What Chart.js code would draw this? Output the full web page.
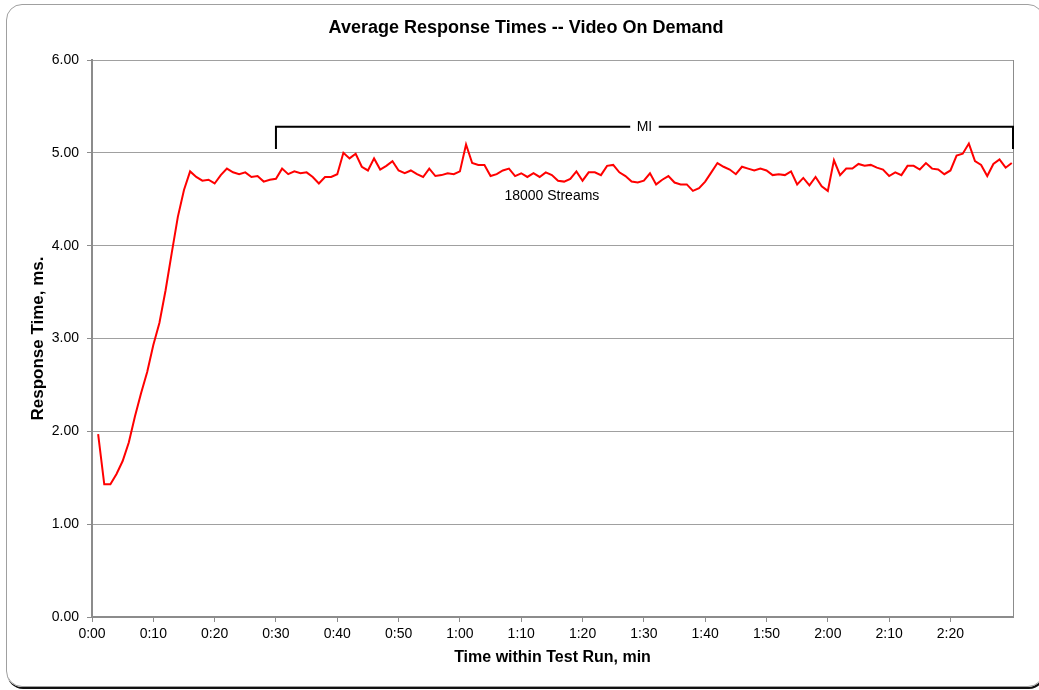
<!DOCTYPE html>
<html>
<head>
<meta charset="utf-8">
<title>Average Response Times -- Video On Demand</title>
<script src="https://cdn.jsdelivr.net/npm/chart.js@4/dist/chart.umd.min.js"></script>
<style>
  html, body { margin: 0; padding: 0; background: #fff; overflow: hidden; }
  .frame {
    position: absolute; left: 6px; top: 4px; width: 1036px; height: 681px;
    border: 1px solid #a0a0a0; border-radius: 16px; box-shadow: 1px 2px 0 #111;
  }
  .wrap { position: absolute; left: 0; top: 0; width: 1039px; height: 690px; }
</style>
</head>
<body>
<div class="frame"></div>
<div class="wrap"><canvas class="js-chart" width="1039" height="690"></canvas></div>
<script>
const ctx = document.querySelector(".js-chart").getContext("2d");

const CHART_TITLE = "Average Response Times -- Video On Demand";
const X_TITLE = "Time within Test Run, min";
const Y_TITLE = "Response Time, ms.";
const SERIES_LABEL = "18000 Streams";
const MI_LABEL = "MI";

// x axis runs in minutes, labelled every 10 min
const X_MAX = 150.2;
const tickMinutes = [0, 10, 20, 30, 40, 50, 60, 70, 80, 90, 100, 110, 120, 130, 140];
const tickLabels = ["0:00", "0:10", "0:20", "0:30", "0:40", "0:50", "1:00", "1:10",
  "1:20", "1:30", "1:40", "1:50", "2:00", "2:10", "2:20"];

// measurement interval bracket (minutes / ms)
const MI_START = 30;
const MI_END = X_MAX;
const MI_LEVEL = 5.28;
const MI_FOOT = 5.04;
const SERIES_LABEL_AT = [75, 4.53];

// one value per minute, 0:01 .. 2:30
const responseTimes = [
  1.97, 1.43, 1.43, 1.54, 1.68, 1.88, 2.16, 2.41, 2.64, 2.93,
  3.17, 3.52, 3.92, 4.31, 4.60, 4.80, 4.74, 4.70, 4.71, 4.67,
  4.76, 4.83, 4.79, 4.77, 4.79, 4.74, 4.75, 4.69, 4.71, 4.72,
  4.83, 4.77, 4.80, 4.78, 4.79, 4.74, 4.67, 4.74, 4.74, 4.77,
  5.00, 4.94, 4.99, 4.85, 4.81, 4.94, 4.82, 4.86, 4.91, 4.81,
  4.78, 4.81, 4.77, 4.74, 4.83, 4.75, 4.76, 4.78, 4.77, 4.80,
  5.09, 4.89, 4.87, 4.87, 4.75, 4.77, 4.81, 4.83, 4.75, 4.78,
  4.74, 4.78, 4.74, 4.79, 4.76, 4.70, 4.69, 4.72, 4.80, 4.70,
  4.79, 4.79, 4.76, 4.86, 4.87, 4.79, 4.75, 4.69, 4.68, 4.70,
  4.78, 4.66, 4.71, 4.75, 4.68, 4.66, 4.66, 4.59, 4.62, 4.69,
  4.79, 4.89, 4.85, 4.82, 4.77, 4.85, 4.83, 4.81, 4.83, 4.81,
  4.76, 4.77, 4.76, 4.80, 4.66, 4.73, 4.65, 4.74, 4.64, 4.59,
  4.92, 4.76, 4.83, 4.83, 4.88, 4.86, 4.87, 4.84, 4.82, 4.75,
  4.79, 4.76, 4.86, 4.86, 4.82, 4.89, 4.83, 4.82, 4.77, 4.81,
  4.97, 4.99, 5.10, 4.91, 4.87, 4.75, 4.88, 4.93, 4.84, 4.89,
];

const FONT = '"Liberation Sans", Arial, sans-serif';
const AXIS_GREY = "#8c8c8c";
const GRID_GREY = "#a0a0a0";

Chart.defaults.font.family = FONT;
Chart.defaults.color = "#000";

// bracket with "MI" and the series label inside the plot
const annotations = {
  id: "annotations",
  afterDatasetsDraw(chart) {
    const { ctx, scales: { x, y } } = chart;
    const left = x.getPixelForValue(MI_START);
    const right = x.getPixelForValue(MI_END);
    const top = y.getPixelForValue(MI_LEVEL);
    const foot = y.getPixelForValue(MI_FOOT);

    ctx.save();
    ctx.strokeStyle = "#000";
    ctx.lineWidth = 2;
    ctx.beginPath();
    ctx.moveTo(left, foot);
    ctx.lineTo(left, top);
    ctx.lineTo(right, top);
    ctx.lineTo(right, foot);
    ctx.stroke();

    ctx.font = "14px " + FONT;
    ctx.textAlign = "center";
    ctx.textBaseline = "middle";
    const mid = x.getPixelForValue((MI_START + MI_END) / 2);
    const w = ctx.measureText(MI_LABEL).width + 13;
    ctx.fillStyle = "#fff";
    ctx.fillRect(mid - w / 2, top - 9, w, 18);
    ctx.fillStyle = "#000";
    ctx.fillText(MI_LABEL, mid, top);

    ctx.fillText(SERIES_LABEL,
      x.getPixelForValue(SERIES_LABEL_AT[0]),
      y.getPixelForValue(SERIES_LABEL_AT[1]));
    ctx.restore();
  },
};

new Chart(ctx, {
  type: "line",
  data: {
    datasets: [
      {
        label: SERIES_LABEL,
        data: responseTimes.map((t, i) => ({ x: i + 1, y: t })),
        borderColor: "#ff0000",
        borderWidth: 2,
        pointRadius: 0,
        tension: 0,
        fill: false,
      },
    ],
  },
  options: {
    responsive: false,
    animation: false,
    layout: { padding: { left: 13, right: 0, top: 0, bottom: 0 } },
    plugins: {
      legend: { display: false },
      tooltip: { enabled: false },
      title: {
        display: true,
        text: CHART_TITLE,
        color: "#000",
        font: { size: 18, weight: "bold" },
        padding: { top: 17, bottom: 21.4 },
      },
    },
    scales: {
      x: {
        type: "linear",
        min: 0,
        max: X_MAX,
        afterBuildTicks(scale) {
          scale.ticks = tickMinutes.map((v) => ({ value: v }));
        },
        ticks: {
          autoSkip: false,
          maxRotation: 0,
          padding: 4,
          font: { size: 14 },
          callback(value, index) {
            return tickLabels[index];
          },
        },
        grid: { drawOnChartArea: false, tickLength: 5, color: AXIS_GREY },
        border: { color: AXIS_GREY, width: 2 },
        title: {
          display: true,
          text: X_TITLE,
          font: { size: 16, weight: "bold" },
          padding: { top: 0, bottom: 23 },
        },
        afterFit(scale) {
          scale.height = 73;
        },
      },
      y: {
        min: 0,
        max: 6,
        ticks: {
          stepSize: 1,
          padding: 8,
          font: { size: 14 },
          callback(value) {
            return value.toFixed(2);
          },
        },
        grid: { color: GRID_GREY, tickColor: AXIS_GREY, tickLength: 5 },
        border: { color: AXIS_GREY, width: 2 },
        title: {
          display: true,
          text: Y_TITLE,
          font: { size: 17, weight: "bold" },
          padding: { top: 15, bottom: 0 },
        },
        afterFit(scale) {
          scale.width = 79;
        },
      },
      y2: {
        position: "right",
        display: true,
        grid: { drawOnChartArea: false, drawTicks: false },
        ticks: { display: false },
        border: { display: true, color: AXIS_GREY, width: 1 },
        afterFit(scale) {
          scale.width = 26;
        },
      },
    },
  },
  plugins: [annotations],
});
</script>
</body>
</html>
